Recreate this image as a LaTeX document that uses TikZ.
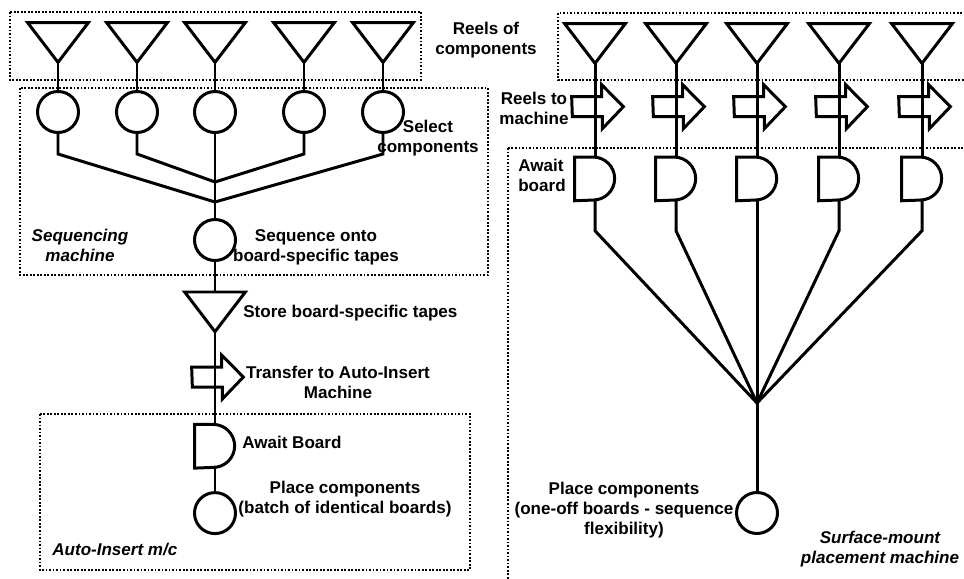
\documentclass[tikz,border=0pt]{standalone}
\usepackage{fontspec}
\setmainfont{Liberation Sans}
\usetikzlibrary{positioning}

\tikzset{
  shape line/.style={line width=1.7pt},
  reel/.style={minimum width=12mm, minimum height=7.8mm, inner sep=0pt,
    append after command={\pgfextra{\draw[shape line] (\tikzlastnode.north west) -- (\tikzlastnode.north east) -- (\tikzlastnode.south) -- cycle;}}},
  op/.style={circle, draw, line width=1.7pt, minimum size=8.2mm, inner sep=0pt},
  move/.style={minimum width=10.2mm, minimum height=8.8mm, inner sep=0pt,
    append after command={\pgfextra{\draw[shape line] (\tikzlastnode.west) ++(0,2mm) -- ++(6mm,0) -- ++(0,2.4mm) -- (\tikzlastnode.east) -- ++(-4.2mm,-4.4mm) -- ++(0,2.4mm) -- ++(-6mm,0) -- cycle;}}},
  await/.style={minimum width=8mm, minimum height=8.6mm, inner sep=0pt,
    append after command={\pgfextra{\draw[shape line] (\tikzlastnode.north west) -- ++(3.7mm,0) arc[start angle=90, end angle=-90, radius=4.3mm] -- (\tikzlastnode.south west) -- cycle;}}},
  area/.style={line width=1pt, dash pattern=on 1pt off 1pt},
  flow/.style={line width=1.7pt},
  lbl/.style={font=\fontsize{9.7}{11.4}\selectfont\bfseries, align=center, inner sep=0pt},
  ilbl/.style={lbl, font=\fontsize{9.7}{11.4}\selectfont\bfseries\itshape},
}

\begin{document}
\begin{tikzpicture}[x=0.2mm, y=-0.2mm]

    \useasboundingbox (0,0) rectangle (964,578);

    % dotted machine areas
    \draw[area] (10,12) rectangle (421,80);
    \draw[area] (20,88) rectangle (488,275);
    \draw[area] (40,414) rectangle (470,570);
    \draw[area] (558,13) rectangle (990,80);
    \draw[area] (508,148) rectangle (990,600);

    % sequencing + auto-insert
    \foreach \x [count=\i] in {58,137,215,304,383} {
        \node[reel] (reelL\i) at (\x,42.5) {};
        \node[op] (selL\i) at (\x,112) {};
        \draw[flow] (reelL\i.south) -- (selL\i.north);
    }
    \coordinate (jin) at (215,182);
    \coordinate (jout) at (215,202);
    \node[op] (seq) at (215,240) {};
    \draw[flow] (selL3.south) -- (seq.north);
    \foreach \i in {1,5}
        \draw[flow] (selL\i.south) -- ++(0,20) -- (jout);
    \foreach \i in {2,4}
        \draw[flow] (selL\i.south) -- ++(0,20) -- (jin);

    \node[reel, below=6mm of seq] (store) {};
    \node[move, below=4.6mm of store, xshift=0.5mm] (xfer) {};
    \node[await, below=5mm of xfer, xshift=-0.5mm] (awL) {};
    \node[op, below=4.6mm of awL] (placeL) {};
    \draw[flow] (seq.south) -- (store.north);
    \draw[flow] (store.south) -- (awL.north);
    \draw[flow] (awL.south) -- (placeL.north);

    \node[lbl] (reelsTxt) at (486,40) {Reels of\\components};
    \node[lbl] (selTxt) at (428,138) {Select\\components};
    \node[lbl] (seqTxt) at (316,247) {Sequence onto\\board-specific tapes};
    \node[ilbl] (seqArea) at (80,245) {Sequencing\\machine};
    \node[lbl, anchor=west] (storeTxt) at (243,313) {Store board-specific tapes};
    \node[lbl] (xferTxt) at (338,382) {Transfer to Auto-Insert\\Machine};
    \node[lbl, anchor=west] (awLTxt) at (242,442) {Await Board};
    \node[lbl] (placeLTxt) at (345,499) {Place components\\(batch of identical boards)};
    \node[ilbl, anchor=west] (aiArea) at (52,549) {Auto-Insert m/c};

    % surface-mount
    \foreach \x [count=\i] in {595,676,757,839,922} {
        \node[reel] (reelR\i) at (\x,43.5) {};
        \node[move, below=4.2mm of reelR\i, xshift=0.5mm] (feedR\i) {};
        \node[await, below=5.6mm of feedR\i, xshift=-0.5mm] (awR\i) {};
        \draw[flow] (reelR\i.south) -- (awR\i.north);
    }
    \coordinate (jR) at (757,403);
    \node[op] (placeR) at (757,513) {};
    \foreach \i in {1,2,4,5}
        \draw[flow] (awR\i.south) -- ++(0,30) -- (jR);
    \draw[flow] (awR3.south) -- (jR) -- (placeR.north);

    \node[lbl] (feedTxt) at (534,108.5) {Reels to\\machine};
    \node[lbl, align=left] (awRTxt) at (542,175.5) {Await\\board};
    \node[lbl] (placeRTxt) at (624,510) {Place components\\(one-off boards - sequence\\flexibility)};
    \node[ilbl] (smArea) at (880,549) {Surface-mount\\placement machine};

\end{tikzpicture}
\end{document}
